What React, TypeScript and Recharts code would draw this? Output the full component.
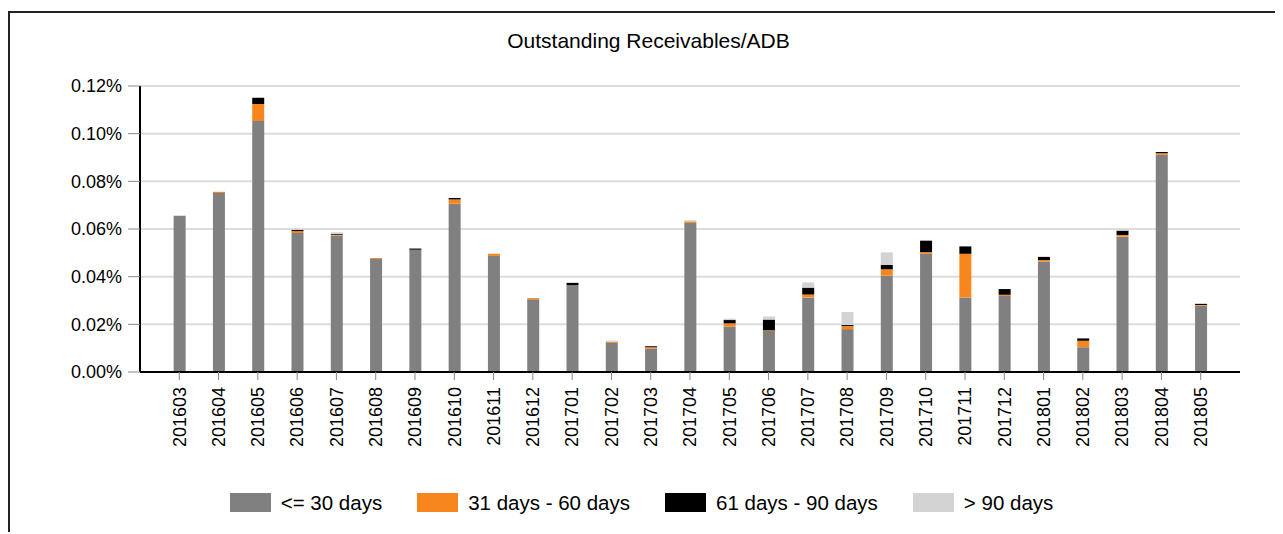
import { BarChart, Bar, XAxis, YAxis, CartesianGrid, Legend } from 'recharts';

const months = [
  '201603', '201604', '201605', '201606', '201607', '201608', '201609', '201610', '201611', '201612',
  '201701', '201702', '201703', '201704', '201705', '201706', '201707', '201708', '201709', '201710',
  '201711', '201712', '201801', '201802', '201803', '201804', '201805',
];

const seriesNames = ['<= 30 days', '31 days - 60 days', '61 days - 90 days', '> 90 days'];

// values in percent of ADB
const upTo30 = [
  0.0655, 0.0751, 0.1053, 0.0583, 0.0573, 0.0474, 0.0513, 0.0706, 0.0487, 0.0305,
  0.0364, 0.0122, 0.0098, 0.0625, 0.019, 0.0172, 0.0312, 0.018, 0.0404, 0.0496,
  0.0313, 0.0319, 0.0464, 0.0104, 0.0568, 0.0911, 0.0278,
];
const days31to60 = [
  0, 0.0005, 0.0071, 0.0008, 0.0003, 0.0004, 0, 0.0018, 0.0008, 0.0005,
  0, 0.0005, 0.0006, 0.0007, 0.0014, 0.0003, 0.0013, 0.0013, 0.0027, 0.0007,
  0.0183, 0.0005, 0.0006, 0.0027, 0.0007, 0.0007, 0.0003,
];
const days61to90 = [
  0, 0, 0.0027, 0.0005, 0.0004, 0, 0.0005, 0.0006, 0, 0,
  0.001, 0, 0.0004, 0, 0.0014, 0.0045, 0.0029, 0.0004, 0.0018, 0.0048,
  0.0031, 0.0024, 0.0013, 0.001, 0.0018, 0.0005, 0.0005,
];
const over90 = [
  0.0003, 0, 0, 0, 0.0006, 0, 0, 0, 0.0003, 0,
  0, 0.0005, 0, 0.0005, 0.0006, 0.0013, 0.0022, 0.0055, 0.0053, 0,
  0, 0, 0, 0, 0.0003, 0, 0,
];

const yTicks = [0, 0.02, 0.04, 0.06, 0.08, 0.1, 0.12];

const data = months.map((m, i) => ({
  month: m,
  a: upTo30[i],
  b: days31to60[i],
  c: days61to90[i],
  d: over90[i],
}));

const FONT = '"Liberation Sans", Arial, sans-serif';

const MonthTick = (props: any) => {
  const { x, y, payload } = props;
  return (
    <g transform={`translate(${x},${y})`}>
      <text transform="rotate(-90)" textAnchor="end" dy="0.35em" fontSize={18} fontFamily={FONT} fill="#000">
        {payload.value}
      </text>
    </g>
  );
};

const LegendBox = (props: any) => {
  const items = [...(props.payload || [])].sort(
    (p: any, q: any) => seriesNames.indexOf(p.value) - seriesNames.indexOf(q.value)
  );
  return (
    <div style={{ display: 'flex', justifyContent: 'center', alignItems: 'center', height: 25, gap: 35, fontFamily: FONT, fontSize: 20.5, paddingRight: 8 }}>
      {items.map((it: any) => (
        <div key={it.value} style={{ display: 'flex', alignItems: 'center' }}>
          <span style={{ display: 'inline-block', width: 41, height: 19, background: it.color, marginRight: 10 }} />
          <span style={{ color: '#000' }}>{it.value}</span>
        </div>
      ))}
    </div>
  );
};

export default function App() {
  return (
    <div style={{ position: 'relative', width: 1275, height: 524, overflow: 'hidden', background: '#fff' }}>
      <div style={{ position: 'absolute', left: 0, top: 3, width: 1400, height: 700, borderLeft: '2px solid #222', borderTop: '2px solid #222' }} />
      <div style={{ position: 'absolute', left: 3, top: 21, width: 1275, textAlign: 'center', fontFamily: FONT, fontSize: 21, lineHeight: '24px', color: '#000' }}>
        Outstanding Receivables/ADB
      </div>
      <div style={{ position: 'absolute', left: 0, top: 0 }}>
        <BarChart width={1275} height={524} data={data} margin={{ top: 78, right: 43, bottom: 64, left: 0 }}>
          <CartesianGrid vertical={false} stroke="#dcdcdc" strokeWidth={2} />
          <XAxis
            dataKey="month"
            interval={0}
            padding={{ left: 19.64, right: 19.64 }}
            height={96}
            tickSize={8}
            tickMargin={7}
            axisLine={{ stroke: '#000', strokeWidth: 2 }}
            tickLine={{ stroke: '#888' }}
            tick={<MonthTick />}
          />
          <YAxis
            width={132}
            domain={[0, 0.12]}
            ticks={yTicks}
            interval={0}
            tickSize={12}
            tickMargin={6}
            tickFormatter={(v: number) => `${v.toFixed(2)}%`}
            axisLine={{ stroke: '#000', strokeWidth: 2 }}
            tickLine={{ stroke: '#888' }}
            tick={{ fontSize: 18, fontFamily: FONT, fill: '#000' }}
          />
          <Legend
            verticalAlign="middle"
            content={<LegendBox />}
            wrapperStyle={{ left: 0, top: 482, width: 1275, height: 25 }}
          />
          <Bar dataKey="a" name={seriesNames[0]} stackId="s" fill="#808080" barSize={12} isAnimationActive={false} />
          <Bar dataKey="b" name={seriesNames[1]} stackId="s" fill="#f7861f" barSize={12} isAnimationActive={false} />
          <Bar dataKey="c" name={seriesNames[2]} stackId="s" fill="#000000" barSize={12} isAnimationActive={false} />
          <Bar dataKey="d" name={seriesNames[3]} stackId="s" fill="#d3d3d3" barSize={12} isAnimationActive={false} />
        </BarChart>
      </div>
    </div>
  );
}
